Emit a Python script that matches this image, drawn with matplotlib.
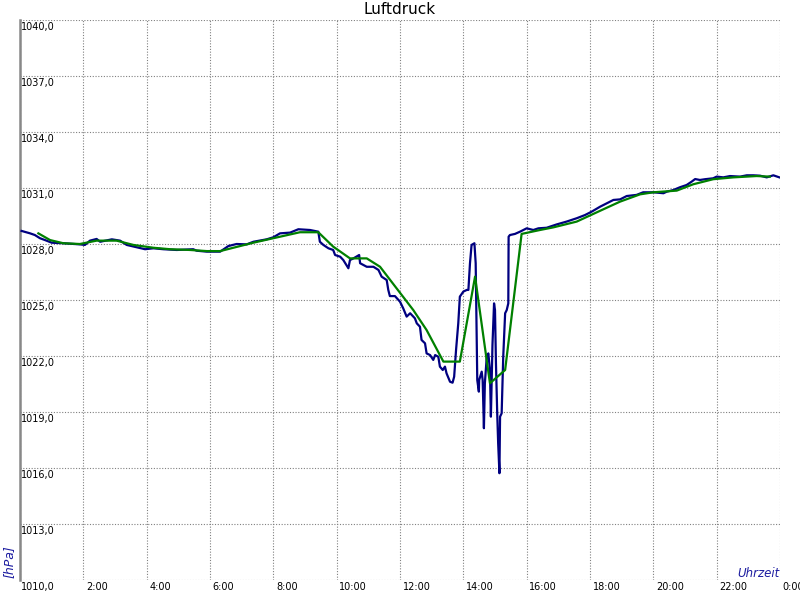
import numpy as np
import matplotlib
matplotlib.use("Agg")
import matplotlib.pyplot as plt


# Luftdruck measurement (hours since midnight, hPa)
raw_hours = [
    0.05, 0.32, 0.47, 0.63, 0.79, 1.00, 1.37, 1.89, 2.05, 2.21, 2.42, 2.53,
    2.90, 3.16, 3.37, 3.69, 3.95, 4.21, 4.53, 4.95, 5.47, 5.58, 5.90, 6.32,
    6.58, 6.84, 7.16, 7.37, 7.79, 8.00, 8.21, 8.53, 8.79, 9.16, 9.42, 9.47,
    9.58, 9.74, 9.89, 9.95, 10.11, 10.21, 10.37, 10.42, 10.53, 10.71, 10.74,
    10.95, 11.16, 11.32, 11.42, 11.58, 11.63, 11.68, 11.84, 12.00, 12.10,
    12.21, 12.32, 12.47, 12.53, 12.63, 12.68, 12.79, 12.84, 12.95, 13.05,
    13.11, 13.21, 13.26, 13.35, 13.42, 13.47, 13.58, 13.66, 13.71, 13.77,
    13.84, 13.89, 14.00, 14.11, 14.16, 14.21, 14.26, 14.35, 14.39, 14.42,
    14.44, 14.49, 14.50, 14.58, 14.61, 14.65, 14.68, 14.74, 14.79, 14.84,
    14.87, 14.92, 14.97, 15.00, 15.03, 15.07, 15.10, 15.14, 15.16, 15.21,
    15.26, 15.32, 15.37, 15.42, 15.43, 15.47, 15.63, 15.79, 16.00, 16.21,
    16.37, 16.63, 16.95, 17.26, 17.58, 17.84, 18.05, 18.32, 18.53, 18.74,
    18.95, 19.16, 19.47, 19.68, 20.00, 20.32, 20.42, 20.63, 20.84, 21.05,
    21.21, 21.32, 21.47, 21.63, 21.89, 22.00, 22.21, 22.42, 22.74, 22.95,
    23.16, 23.37, 23.58, 23.79, 23.98,
]
raw_hpa = [
    1028.70, 1028.57, 1028.48, 1028.31, 1028.21, 1028.07, 1028.04, 1027.98,
    1027.95, 1028.18, 1028.27, 1028.12, 1028.25, 1028.18, 1027.95, 1027.82,
    1027.72, 1027.77, 1027.72, 1027.68, 1027.72, 1027.64, 1027.59, 1027.59,
    1027.89, 1028.00, 1027.98, 1028.12, 1028.25, 1028.36, 1028.57, 1028.61,
    1028.79, 1028.75, 1028.66, 1028.12, 1027.95, 1027.77, 1027.68, 1027.41,
    1027.32, 1027.14, 1026.70, 1027.14, 1027.23, 1027.41, 1026.97, 1026.78,
    1026.78, 1026.61, 1026.25, 1026.07, 1025.54, 1025.21, 1025.21, 1024.91,
    1024.56, 1024.11, 1024.29, 1024.02, 1023.75, 1023.57, 1022.86, 1022.68,
    1022.14, 1022.05, 1021.79, 1022.05, 1021.96, 1021.43, 1021.25, 1021.43,
    1021.07, 1020.62, 1020.57, 1020.89, 1022.32, 1023.75, 1025.18, 1025.45,
    1025.54, 1025.54, 1026.97, 1027.95, 1028.04, 1026.97, 1023.39, 1020.71,
    1020.09, 1020.71, 1021.16, 1020.71, 1018.13, 1020.54, 1021.96, 1022.14,
    1021.25, 1018.75, 1022.59, 1024.82, 1024.46, 1021.61, 1018.93, 1017.32,
    1015.72, 1018.75, 1018.93, 1021.96, 1024.29, 1024.46, 1024.82, 1028.39,
    1028.48, 1028.54, 1028.66, 1028.84, 1028.75, 1028.84, 1028.87, 1029.05,
    1029.20, 1029.38, 1029.55, 1029.73, 1030.00, 1030.18, 1030.36, 1030.39,
    1030.57, 1030.63, 1030.77, 1030.77, 1030.72, 1030.80, 1030.89, 1031.04,
    1031.16, 1031.34, 1031.48, 1031.43, 1031.47, 1031.52, 1031.61, 1031.57,
    1031.64, 1031.61, 1031.68, 1031.68, 1031.66, 1031.57, 1031.68, 1031.57,
]

# smoothed curve
avg_hours = [
    0.58, 0.95, 1.37, 1.89, 2.42, 3.05, 3.58, 4.21, 4.74, 5.37, 5.90, 6.32,
    6.74, 7.37, 8.21, 8.84, 9.42, 9.89, 10.42, 10.95, 11.37, 11.89, 12.42,
    12.84, 13.37, 13.89, 14.37, 14.84, 15.32, 15.84, 16.42, 16.84, 17.58,
    18.32, 18.95, 19.58, 20.00, 20.74, 21.26, 21.89, 22.53, 23.26, 23.68,
]
avg_hpa = [
    1028.57, 1028.21, 1028.04, 1028.00, 1028.18, 1028.18, 1027.95, 1027.80,
    1027.72, 1027.68, 1027.62, 1027.62, 1027.80, 1028.07, 1028.39, 1028.63,
    1028.63, 1027.86, 1027.23, 1027.23, 1026.78, 1025.63, 1024.46, 1023.39,
    1021.70, 1021.70, 1026.25, 1020.54, 1021.25, 1028.54, 1028.75, 1028.89,
    1029.20, 1029.78, 1030.27, 1030.66, 1030.77, 1030.86, 1031.20, 1031.47,
    1031.57, 1031.64, 1031.61,
]

hour_ticks = list(range(0, 25, 2))
hour_labels = ["", "2:00", "4:00", "6:00", "8:00", "10:00", "12:00", "14:00",
               "16:00", "18:00", "20:00", "22:00", "0:00"]
hpa_ticks = list(range(1010, 1041, 3))
hpa_labels = [f"{v},0" for v in hpa_ticks]

LABEL_BLUE = "#1c1ca0"


def main():
    fig = plt.figure(figsize=(8, 6), dpi=100)
    ax = fig.add_axes([0.025, 20 / 600, 0.95, 560 / 600])

    ax.plot(raw_hours, raw_hpa, color="#000080", lw=1.6, zorder=3)
    ax.plot(avg_hours, avg_hpa, color="#008000", lw=1.6, zorder=4)

    ax.set_xlim(0, 24)
    ax.set_ylim(1010, 1040)
    ax.set_xticks(hour_ticks)
    ax.set_yticks(hpa_ticks)
    ax.set_xticklabels([])
    ax.set_yticklabels([])
    ax.tick_params(length=0)
    ax.grid(True, color="#808080", lw=0.8, linestyle=(0, (1, 1.5)))
    ax.set_axisbelow(True)

    for side in ("top", "right", "bottom"):
        ax.spines[side].set_visible(False)
    ax.spines["left"].set_color("#888888")
    ax.spines["left"].set_linewidth(1.8)

    for v, lab in zip(hpa_ticks, hpa_labels):
        ax.annotate(lab, xy=(0, v), xycoords=("axes fraction", "data"),
                    xytext=(1, -1.5), textcoords="offset points",
                    ha="left", va="top", fontsize=7, annotation_clip=False)
    for h, lab in zip(hour_ticks, hour_labels):
        if not lab:
            continue
        ax.annotate(lab, xy=(h, 1010), xycoords="data",
                    xytext=(2, -1.5), textcoords="offset points",
                    ha="left", va="top", fontsize=7, annotation_clip=False)

    fig.text(0.5, 1 - 14 / 600, "Luftdruck", ha="center", va="baseline",
             fontsize=11)
    fig.text(9 / 800, 22 / 600, "[hPa]", rotation=90, ha="center",
             va="bottom", fontsize=9, style="italic", color=LABEL_BLUE)
    fig.text(780 / 800, 23 / 600, "Uhrzeit", ha="right", va="baseline",
             fontsize=8.5, style="italic", color=LABEL_BLUE)

    fig.savefig("out.png", dpi=100)
    plt.close(fig)


if __name__ == "__main__":
    main()
